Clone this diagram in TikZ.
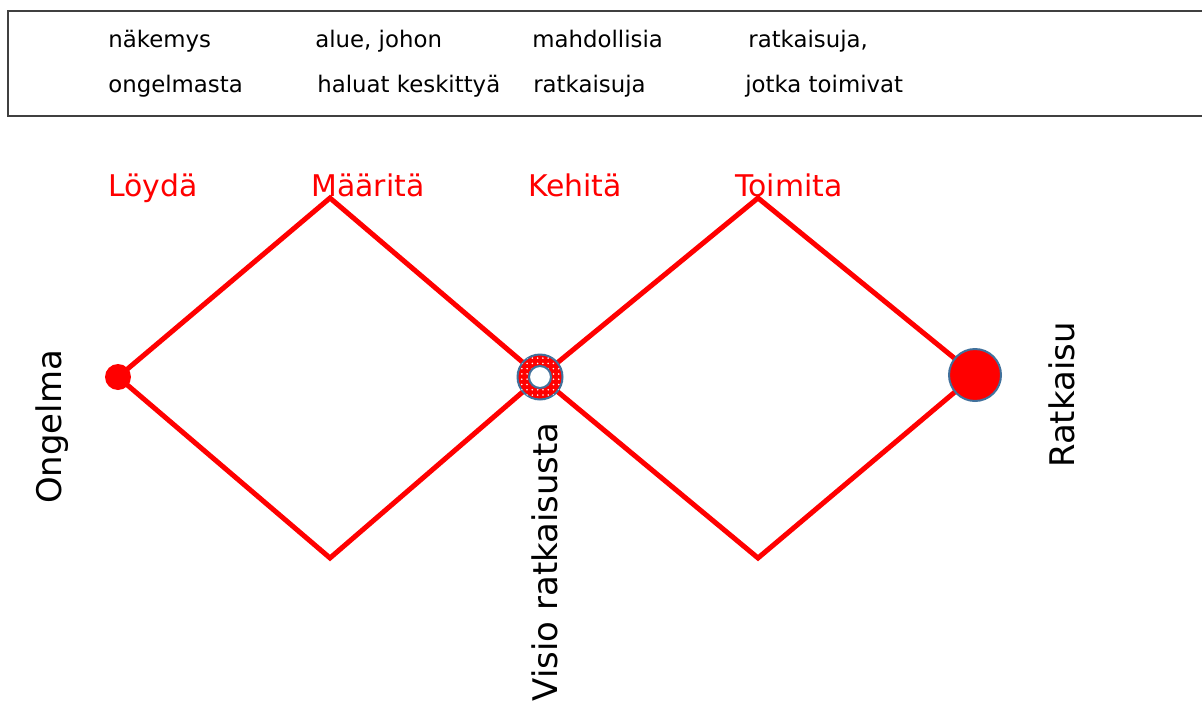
\documentclass[tikz,border=0pt]{standalone}
\usepackage{fontspec}
\setmainfont{DejaVu Sans}
\usetikzlibrary{patterns}
\definecolor{reunasini}{HTML}{41719C}

\begin{document}
\begin{tikzpicture}[x=0.02cm, y=-0.02cm,
  polku/.style={red, line width=0.1cm, line join=miter},
  vaihe/.style={text=red, font=\fontsize{17}{20}\selectfont, anchor=base, inner sep=0pt},
  selite/.style={font=\fontsize{13}{16}\selectfont, anchor=base west, inner sep=0pt},
  pysty/.style={rotate=90, font=\fontsize{19.3}{23}\selectfont, inner sep=0pt}]
  \useasboundingbox (0,0) rectangle (1202,706);

  % Selitelaatikko
  \draw[black!75, line width=0.04cm] (1215,11) -- (8,11) -- (8,116) -- (1215,116);
  \node[selite] (s1a) at (108,48) {näkemys};
  \node[selite] (s1b) at (108,92) {ongelmasta};
  \node[selite] (s2a) at (315,48) {alue, johon};
  \node[selite] (s2b) at (317,92) {haluat keskittyä};
  \node[selite] (s3a) at (532,48) {mahdollisia};
  \node[selite] (s3b) at (533,92) {ratkaisuja};
  \node[selite] (s4a) at (748,48) {ratkaisuja,};
  \node[selite] (s4b) at (745,92) {jotka toimivat};

  % Vaiheet
  \node[vaihe] (loyda) at (153,196) {Löydä};
  \node[vaihe] (maarita) at (368,196) {Määritä};
  \node[vaihe] (kehita) at (575,196) {Kehitä};
  \node[vaihe] (toimita) at (789,196) {Toimita};

  % Timantit
  \coordinate (alku) at (118,377);
  \coordinate (ylo1) at (330,198);
  \coordinate (ala1) at (330,558);
  \coordinate (keski) at (540,377);
  \coordinate (ylo2) at (758,198);
  \coordinate (ala2) at (758,558);
  \coordinate (loppu) at (975,375);
  \draw[polku] (alku) -- (ylo1) -- (keski) -- (ylo2) -- (loppu);
  \draw[polku] (alku) -- (ala1) -- (keski) -- (ala2) -- (loppu);

  % Pisteet
  \node[circle, fill=red, inner sep=0pt, minimum size=0.52cm] (ongelma) at (alku) {};
  \node[circle, fill=red, draw=reunasini, line width=0.04cm, inner sep=0pt,
    minimum size=0.9cm, postaction={pattern=dots, pattern color=white}] (visio) at (keski) {};
  \node[circle, fill=white, draw=reunasini, line width=0.04cm, inner sep=0pt,
    minimum size=0.44cm] (reika) at (keski) {};
  \node[circle, fill=red, draw=reunasini, line width=0.04cm, inner sep=0pt,
    minimum size=1.04cm] (ratkaisu) at (loppu) {};

  % Pystytekstit
  \node[pysty] (tOngelma) at (52,427) {Ongelma};
  \node[pysty, anchor=east] (tVisio) at (545,422) {Visio ratkaisusta};
  \node[pysty] (tRatkaisu) at (1062,395) {Ratkaisu};
\end{tikzpicture}
\end{document}
